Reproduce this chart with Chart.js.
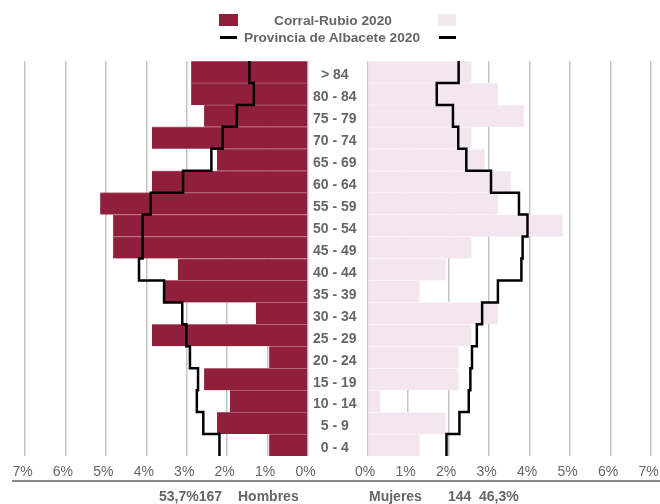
<!DOCTYPE html>
<html>
<head>
<meta charset="utf-8">
<script src="https://cdn.jsdelivr.net/npm/chart.js@4.4.1/dist/chart.umd.min.js"></script>
<style>
  html, body { margin: 0; padding: 0; background: #fff; }
  body { position: relative; width: 660px; height: 504px; overflow: hidden;
         font-family: "Liberation Sans", Arial, sans-serif; color: #666; }
  canvas { position: absolute; top: 0; }
  #left { left: 0; }
  #right { left: 300px; }
  .sw { position: absolute; }
  .txt { position: absolute; font-weight: bold; font-size: 14px; line-height: 16px; white-space: nowrap; }
  .lgtxt { position: absolute; left: 233px; width: 200px; text-align: center; font-weight: bold;
           font-size: 13.7px; line-height: 16px; white-space: nowrap; }
  #rule { position: absolute; left: 12px; width: 648px; top: 480px; height: 2px; background: #888; }
</style>
</head>
<body>
<canvas id="left" width="330" height="504"></canvas>
<canvas id="right" width="380" height="504"></canvas>

<div class="sw" style="left:219px;top:14px;width:19px;height:12px;background:#8f1f3b"></div>
<div class="lgtxt" style="top:13px">Corral-Rubio 2020</div>
<div class="sw" style="left:438px;top:14px;width:18px;height:12px;background:#f3e6ef"></div>
<div class="sw" style="left:220px;top:36px;width:17px;height:2.5px;background:#000"></div>
<div class="lgtxt" style="top:30px;left:232px">Provincia de Albacete 2020</div>
<div class="sw" style="left:439px;top:36px;width:17px;height:2.5px;background:#000"></div>

<div id="rule"></div>
<div class="txt" style="left:159px;top:488px">53,7%167</div>
<div class="txt" style="left:238px;top:488px">Hombres</div>
<div class="txt" style="left:369px;top:488px">Mujeres</div>
<div class="txt" style="left:448px;top:488px">144</div>
<div class="txt" style="left:479px;top:488px">46,3%</div>

<script>
  // age groups, top to bottom
  const AGE_GROUPS = [
    "> 84", "80 - 84", "75 - 79", "70 - 74", "65 - 69", "60 - 64",
    "55 - 59", "50 - 54", "45 - 49", "40 - 44", "35 - 39", "30 - 34",
    "25 - 29", "20 - 24", "15 - 19", "10 - 14", "5 - 9", "0 - 4",
  ];
  // Corral-Rubio 2020, % of total population
  const MEN = [2.89, 2.89, 2.57, 3.86, 2.25, 3.86, 5.14, 4.82, 4.82, 3.22, 3.54, 1.29, 3.86, 0.96, 2.57, 1.93, 2.25, 0.96];
  const WOMEN = [2.57, 3.22, 3.86, 2.57, 2.89, 3.54, 3.22, 4.82, 2.57, 1.93, 1.29, 3.22, 2.57, 2.25, 2.25, 0.32, 1.93, 1.29];
  // Provincia de Albacete 2020, % of total population
  const PROV_MEN = [1.45, 1.34, 1.76, 2.11, 2.39, 3.09, 3.89, 4.09, 4.09, 4.18, 3.56, 3.11, 3.01, 2.92, 2.72, 2.75, 2.59, 2.19];
  const PROV_WOMEN = [2.25, 1.71, 2.11, 2.24, 2.44, 3.05, 3.74, 3.95, 3.83, 3.80, 3.22, 2.83, 2.70, 2.58, 2.54, 2.50, 2.27, 1.95];
  const PCT_TICKS = [0, 1, 2, 3, 4, 5, 6, 7];

  const COLORS = {
    men: "#8f1f3b",
    menEdge: "#b8677b",
    women: "#f3e6ef",
    womenEdge: "#faf4f8",
    grid: "#c4c4c4",
    text: "#666",
  };
  const FONT = "'Liberation Sans', Arial, sans-serif";

  // each age group becomes a vertical run spanning its band, so the outline steps at band edges
  function stepPoints(values) {
    const pts = [];
    values.forEach((v, i) => {
      pts.push({ x: v, y: i - 0.5 }, { x: v, y: i + 0.5 });
    });
    return pts;
  }

  function xScale(reverse) {
    return {
      type: "linear",
      min: 0,
      max: 7,
      reverse: reverse,
      afterBuildTicks: (s) => { s.ticks = PCT_TICKS.map((v) => ({ value: v })); },
      grid: { color: COLORS.grid, lineWidth: 1.5, drawTicks: false },
      border: { display: false },
      ticks: {
        padding: 8,
        labelOffset: -2.5,
        color: COLORS.text,
        font: { family: FONT, size: 14 },
        autoSkip: false,
        maxRotation: 0,
        callback: (v) => v + "%",
      },
    };
  }

  function pyramidHalf(canvasId, bars, line, color, edge, reverse, showLabels, padding) {
    const el = document.getElementById(canvasId);
    if (!el || typeof Chart === "undefined") return;
    new Chart(el, {
      data: {
        labels: AGE_GROUPS,
        datasets: [
          {
            type: "line",
            data: stepPoints(line),
            yAxisID: "yl",
            borderColor: "#000",
            borderWidth: 2.5,
            pointRadius: 0,
            fill: false,
            tension: 0,
            order: 0,
          },
          {
            type: "bar",
            data: bars,
            yAxisID: "y",
            backgroundColor: color,
            borderColor: edge,
            borderWidth: { top: 1, bottom: 0, left: 0, right: 0 },
            borderSkipped: false,
            barPercentage: 1,
            categoryPercentage: 1,
            grouped: false,
            order: 1,
          },
        ],
      },
      options: {
        indexAxis: "y",
        responsive: false,
        animation: false,
        events: [],
        layout: { padding: padding },
        plugins: { legend: { display: false }, tooltip: { enabled: false } },
        scales: {
          x: xScale(reverse),
          y: {
            type: "category",
            display: showLabels,
            position: "left",
            grid: { display: false },
            border: { display: false },
            ticks: {
              crossAlign: "center",
              padding: 3,
              labelOffset: 3.5,
              color: COLORS.text,
              font: { family: FONT, size: 14, weight: "bold" },
            },
            afterFit: (s) => { if (showLabels) s.width = 67.5; },
          },
          yl: {
            type: "linear",
            display: false,
            min: -0.5,
            max: AGE_GROUPS.length - 0.5,
            reverse: true,
          },
        },
      },
    });
  }

  pyramidHalf("left", MEN, PROV_MEN, COLORS.men, COLORS.menEdge, true, false,
    { left: 25, right: 22, top: 61, bottom: 15.2 });
  pyramidHalf("right", WOMEN, PROV_WOMEN, COLORS.women, COLORS.womenEdge, false, true,
    { left: 0, right: 29, top: 61, bottom: 15.2 });
</script>
</body>
</html>
